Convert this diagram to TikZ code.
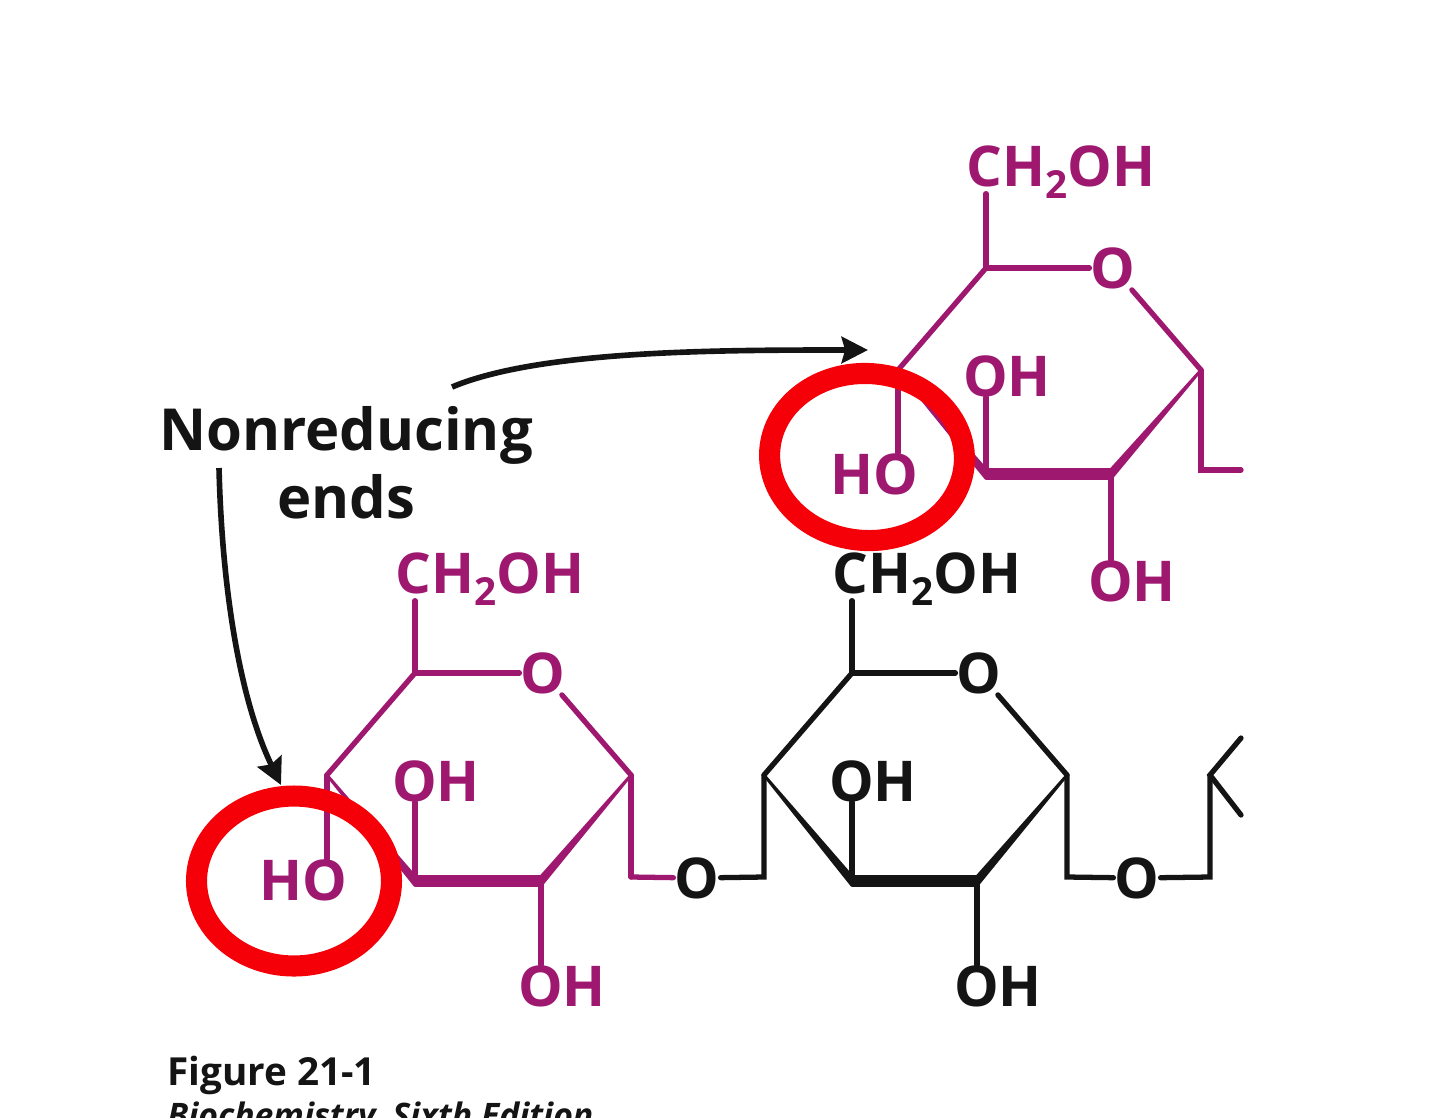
\documentclass[tikz,border=0pt]{standalone}
\usepackage{fontspec}
\setmainfont{Open Sans}
\usetikzlibrary{arrows.meta,calc,shapes.geometric}
\definecolor{sugar}{RGB}{158,24,112}
\definecolor{ink}{RGB}{20,20,20}
\definecolor{ringred}{RGB}{245,0,8}
\newcommand{\chtwo}{CH\raisebox{-.22em}{\fontsize{22}{24}\selectfont 2}OH}
\newcommand{\wedgebond}[2]{\filldraw[line width=1.6pt,line join=round] (#1) -- ([yshift=2.6pt]#2) -- ([yshift=-2.6pt]#2) -- cycle;}
\tikzset{
  atom/.style={inner sep=0pt,font=\fontsize{32}{36}\selectfont\bfseries},
  oxy/.style={atom,inner sep=0.5pt},
  bond/.style={line width=3pt,line cap=round,line join=miter},
  boldbond/.style={line width=6.4pt,line cap=butt},
  callout/.style={inner sep=0pt,text=ink,font=\fontsize{33}{37}\selectfont\bfseries},
  pointer/.style={draw=ink,line width=3.2pt,-{Stealth[length=15pt,width=15pt,inset=2pt]}},
  ringmark/.style={draw=ringred,line width=12pt,ellipse,inner sep=0pt},
  caption/.style={inner sep=0pt,anchor=base west,text=ink}
}
\begin{document}
\begin{tikzpicture}[x=0.02cm,y=-0.02cm]
\useasboundingbox (0,0) rectangle (1440,1117);
\clip (0,0) rectangle (1440,1117);
\fill[white] (0,0) rectangle (1440,1117);

% ---- left magenta ring
\begin{scope}[color=sugar,text=sugar]
\coordinate (a5) at (415,673);
\coordinate (a1) at (631,775);
\coordinate (a2) at (541,881);
\coordinate (a3) at (415,881);
\coordinate (a4) at (327,775);
\coordinate (a6) at (631,877);
\node[oxy] (aO) at (543,673) {O};
\node[atom] (aCH) at (490,579) {\chtwo};
\node[atom] (aOH3) at (436,781) {OH};
\node[atom] (aOH2) at (562,986) {OH};
\node[atom] (aHO) at (303,880) {HO};
\draw[bond] (a5) -- ([yshift=3pt]a5 |- aCH.south);
\draw[bond] (a5) -- (aO);
\draw[bond] (aO) -- (a1);
\draw[bond] (a4) -- (a5);
\draw[bond] (a4) -- (a4 |- aHO.north);
\draw[bond] (a3) -- (a3 |- aOH3.south);
\draw[bond] (a2) -- (a2 |- aOH2.north);
\draw[bond] (a1) -- (a6);
\wedgebond{a4}{a3}
\wedgebond{a1}{a2}
\draw[boldbond] (a3) -- (a2);
\end{scope}

% ---- top magenta ring
\begin{scope}[color=sugar,text=sugar]
\coordinate (b5) at (986,268);
\coordinate (b1) at (1201,370);
\coordinate (b2) at (1111,474);
\coordinate (b3) at (986,474);
\coordinate (b4) at (898,370);
\coordinate (b6) at (1201,470);
\coordinate (b7) at (1241,470);
\node[oxy] (bO) at (1113,268) {O};
\node[atom] (bCH) at (1061,172) {\chtwo};
\node[atom] (bOH3) at (1007,376) {OH};
\node[atom] (bOH2) at (1132,581) {OH};
\node[atom] (bHO) at (874,474) {HO};
\draw[bond] (b5) -- ([yshift=3pt]b5 |- bCH.south);
\draw[bond] (b5) -- (bO);
\draw[bond] (bO) -- (b1);
\draw[bond] (b4) -- (b5);
\draw[bond] (b4) -- (b4 |- bHO.north);
\draw[bond] (b3) -- (b3 |- bOH3.south);
\draw[bond] (b2) -- (b2 |- bOH2.north);
\draw[bond] (b1) -- (b6) -- (b7);
\wedgebond{b4}{b3}
\wedgebond{b1}{b2}
\draw[boldbond] (b3) -- (b2);
\end{scope}

% ---- black ring
\begin{scope}[color=ink,text=ink]
\coordinate (c5) at (852,673);
\coordinate (c1) at (1067,775);
\coordinate (c2) at (977,881);
\coordinate (c3) at (852,881);
\coordinate (c4) at (764,775);
\coordinate (c6) at (1067,877);
\coordinate (c7) at (764,877);
\coordinate (d6) at (1210,877);
\coordinate (d4) at (1210,775);
\coordinate (d5) at (1241,738);
\coordinate (d3) at (1241,815);
\node[oxy] (cO) at (979,673) {O};
\node[atom] (cCH) at (927,579) {\chtwo};
\node[atom] (cOH3) at (873,781) {OH};
\node[atom] (cOH2) at (998,986) {OH};
\node[oxy] (lnkA) at (697,878) {O};
\node[oxy] (lnkB) at (1137,878) {O};
\draw[bond] (c5) -- ([yshift=3pt]c5 |- cCH.south);
\draw[bond] (c5) -- (cO);
\draw[bond] (cO) -- (c1);
\draw[bond] (c4) -- (c5);
\draw[bond] (c3) -- (c3 |- cOH3.south);
\draw[bond] (c2) -- (c2 |- cOH2.north);
\draw[bond] (c1) -- (c6) -- (lnkB);
\draw[bond] (lnkB) -- (d6) -- (d4);
\draw[bond] (d5) -- (d4) -- (d3);
\draw[bond] (lnkA) -- (c7) -- (c4);
\wedgebond{c4}{c3}
\wedgebond{c1}{c2}
\draw[boldbond] (c3) -- (c2);
\end{scope}
\draw[bond,sugar] (a6) -- (lnkA);

% ---- red rings
\node[ringmark,minimum width=3.9cm,minimum height=3.4cm] (redA) at (294,881) {};
\node[ringmark,minimum width=3.9cm,minimum height=3.34cm,rotate=-4] (redB) at (867,457) {};

% ---- callout
\node[callout] (nonred) at (346,435) {Nonreducing};
\node[callout] (ends) at (346,497) {ends};
\coordinate (p1s) at (452,387);
\coordinate (p1a) at (540,350);
\coordinate (p1b) at (720,350);
\coordinate (p1e) at (868,350);
\coordinate (p2s) at (219,468);
\coordinate (p2a) at (222,590);
\coordinate (p2b) at (240,700);
\coordinate (p2e) at (281,785);
\draw[pointer] (p1s) .. controls (p1a) and (p1b) .. (p1e);
\draw[pointer] (p2s) .. controls (p2a) and (p2b) .. (p2e);

% ---- caption
\node[caption,font=\fontsize{22}{25}\selectfont\bfseries] (figno) at (167,1085) {Figure 21-1};
\node[caption,font=\fontsize{19.2}{23}\selectfont\bfseries\itshape] (figsrc) at (167,1127) {Biochemistry, Sixth Edition};
\end{tikzpicture}
\end{document}
